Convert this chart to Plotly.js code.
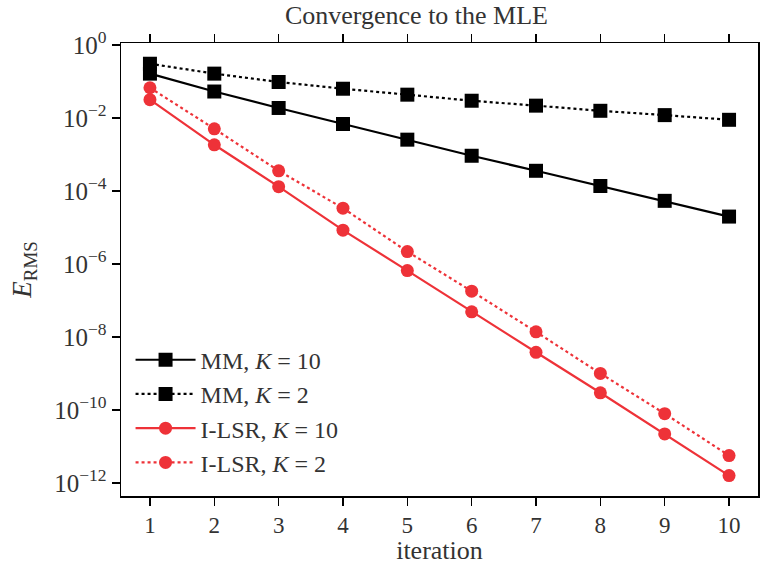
<!DOCTYPE html>
<html><head><meta charset="utf-8">
<script src="https://cdn.plot.ly/plotly-3.0.1.min.js"></script>
<style>body{margin:0}#c{width:760px;height:565px}</style>
</head><body><div id="c"></div>
<script>
const iterations = [1,2,3,4,5,6,7,8,9,10];
const mmK10   = [0.166, 0.0537, 0.019, 0.0069, 0.00257, 0.00093, 0.00036, 0.000138, 5.4e-5, 2.0e-5];
const mmK2    = [0.31, 0.166, 0.098, 0.064, 0.044, 0.030, 0.022, 0.0159, 0.0121, 0.0090];
const ilsrK10 = [3.2e-2, 1.86e-3, 1.32e-4, 8.5e-6, 6.6e-7, 4.9e-8, 3.8e-9, 2.95e-10, 2.2e-11, 1.58e-12];
const ilsrK2  = [6.8e-2, 5.1e-3, 3.6e-4, 3.4e-5, 2.2e-6, 1.8e-7, 1.38e-8, 1.0e-9, 7.9e-11, 5.6e-12];
const yTickVals = [1, 1e-2, 1e-4, 1e-6, 1e-8, 1e-10, 1e-12];
const yTickText = ['10<sup>0</sup>','10<sup>−2</sup>','10<sup>−4</sup>','10<sup>−6</sup>','10<sup>−8</sup>','10<sup>−10</sup>','10<sup>−12</sup>'];
const seriesNames = ['MM, <i>K</i> = 10','MM, <i>K</i> = 2','I-LSR, <i>K</i> = 10','I-LSR, <i>K</i> = 2'];

const RED = '#ee3238';
const font = 'Liberation Serif, DejaVu Serif, serif';
function tr(y, name, color, dash, symbol, size){
  return {x: iterations, y: y, name: name, type:'scatter', mode:'lines+markers',
    line:{color:color, width:2.2, dash:dash},
    marker:{color:color, symbol:symbol, size:size}};
}
const data = [
  tr(mmK10, seriesNames[0], '#000', 'solid', 'square', 14),
  tr(mmK2, seriesNames[1], '#000', 'dot', 'square', 14),
  tr(ilsrK10, seriesNames[2], RED, 'solid', 'circle', 13),
  tr(ilsrK2, seriesNames[3], RED, 'dot', 'circle', 13)
];
const layout = {
  width:760, height:565,
  margin:{l:121, r:2, t:43, b:69},
  paper_bgcolor:'#fff', plot_bgcolor:'#fff',
  font:{family:font, size:24, color:'#333'},
  title:{text:'Convergence to the MLE', font:{family:font, size:26, color:'#333'}, x:0.548, xref:'container', xanchor:'center', y:0.99, yanchor:'top'},
  showlegend:true,
  legend:{x:0.015, y:0.025, xanchor:'left', yanchor:'bottom', bgcolor:'rgba(0,0,0,0)', font:{family:font, size:24, color:'#333'}, tracegroupgap:0, itemwidth:60},
  xaxis:{range:[0.55,10.45], tickvals:iterations, ticks:'outside', ticklen:8, tickwidth:1.5, tickcolor:'#000',
    showline:true, linecolor:'#000', linewidth:1.5, mirror:'allticks', showgrid:false, zeroline:false,
    tickfont:{family:font, size:23, color:'#333'},
    title:{text:'iteration', font:{family:font, size:26, color:'#333'}, standoff:9}},
  yaxis:{type:'log', range:[-12.36,0.06], tickvals:yTickVals, ticktext:yTickText, ticks:'outside', ticklen:8, tickwidth:1.5, tickcolor:'#000',
    showline:true, linecolor:'#000', linewidth:1.5, mirror:'allticks', showgrid:false, zeroline:false,
    tickfont:{family:font, size:25, color:'#333'},
    title:{text:'<i>E</i><sub>RMS</sub>', font:{family:font, size:27, color:'#333'}, standoff:14}}
};
Plotly.newPlot('c', data, layout, {displayModeBar:false, staticPlot:true});
</script></body></html>
